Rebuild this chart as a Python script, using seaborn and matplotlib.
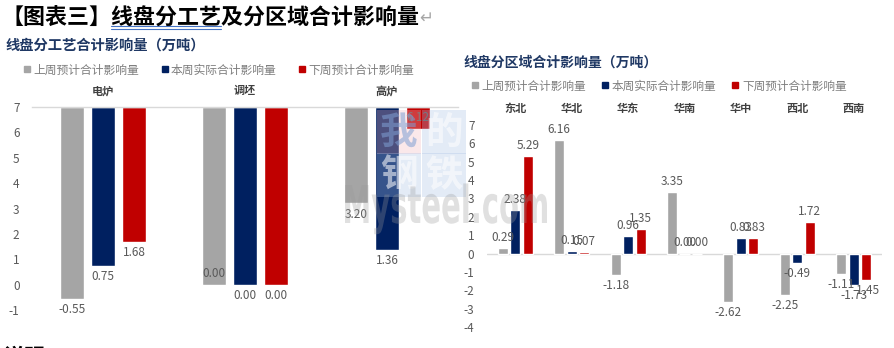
import matplotlib
matplotlib.use('Agg')
import matplotlib.pyplot as plt
import seaborn as sns
import pandas as pd
from matplotlib.lines import Line2D
from matplotlib.patches import PathPatch, Rectangle
from matplotlib.textpath import TextPath
from matplotlib.font_manager import FontProperties
from matplotlib.transforms import Affine2D

# ---------------- data ----------------
series = ['上周预计合计影响量', '本周实际合计影响量', '下周预计合计影响量']
colors = ['#A5A5A5', '#002060', '#C00000']

proc_cats = ['电炉', '调坯', '高炉']
proc_last = [-0.55, 0.00, 3.20]
proc_this = [0.75, 0.00, 1.36]
proc_next = [1.68, 0.00, 6.12]

reg_cats = ['东北', '华北', '华东', '华南', '华中', '西北', '西南']
reg_last = [0.29, 6.16, -1.18, 3.35, -2.62, -2.25, -1.11]
reg_this = [2.38, 0.15, 0.96, 0.00, 0.83, -0.49, -1.73]
reg_next = [5.29, 0.07, 1.35, 0.00, 0.83, 1.72, -1.45]

left_ticks = [-1, 0, 1, 2, 3, 4, 5, 6, 7]
right_ticks = [-4, -3, -2, -1, 0, 1, 2, 3, 4, 5, 6, 7]

main_title = '【图表三】线盘分工艺及分区域合计影响量'
left_title = '线盘分工艺合计影响量（万吨）'
right_title = '线盘分区域合计影响量（万吨）'


def long_df(cats, vals):
    rows = []
    for s, v in zip(series, vals):
        for c, x in zip(cats, v):
            rows.append({'cat': c, 'series': s, 'value': x})
    return pd.DataFrame(rows)


sns.set_style('white')
plt.rcParams['font.family'] = ['Noto Sans CJK SC', 'DejaVu Sans']

W, H = 894, 348
fig = plt.figure(figsize=(W / 100, H / 100), dpi=100)
fig.patch.set_facecolor('white')

TICK_C = '#595959'
LAB_C = '#595959'
CAT_C = '#404040'
LEG_C = '#7F7F7F'
TITLE_C = '#1F3864'

# ---------------- left: by process (axis crosses at top = 7) ----------------
ax1 = fig.add_axes([32 / W, 1 - 310 / H, 426 / W, 203 / H])
top = left_ticks[-1]
df1 = long_df(proc_cats, [proc_last, proc_this, proc_next])
df1['h'] = df1['value'] - top
sns.barplot(data=df1, x='cat', y='h', hue='series', order=proc_cats, hue_order=series,
            palette=colors, saturation=1, width=0.655, gap=0.23, bottom=top,
            errorbar=None, legend=False, ax=ax1)
ax1.set_ylim(left_ticks[0], top)
ax1.set_yticks(left_ticks)
ax1.set_yticklabels([str(t) for t in left_ticks])
ax1.set_xlabel('')
ax1.set_ylabel('')
ax1.xaxis.tick_top()
ax1.tick_params(axis='x', length=0, pad=7, labelsize=8, labelcolor=CAT_C)
for t in ax1.get_xticklabels():
    t.set_fontweight('bold')
ax1.tick_params(axis='y', length=0, pad=9, labelsize=8.5, labelcolor=TICK_C)
for s in ['left', 'right', 'bottom']:
    ax1.spines[s].set_visible(False)
ax1.spines['top'].set_color('#D9D9D9')
ax1.spines['top'].set_linewidth(1)

for ci, (cont, vals) in enumerate(zip(ax1.containers, [proc_last, proc_this, proc_next])):
    anns = ax1.bar_label(cont, labels=[f'{v:.2f}' for v in vals], padding=3,
                         fontsize=8.5, color=LAB_C)
    for bi, (ann, patch) in enumerate(zip(anns, cont.patches)):
        if ci == 0 and bi == 1:
            ann.xyann = (0, 3)
            ann.set_va('bottom')
        if ci == 2 and bi == 2:
            ann.xy = (ann.xy[0], patch.get_y())
            ann.xyann = (0, -3)
            ann.set_va('top')
            ann.set_zorder(20)

# ---------------- right: by region ----------------
ax2 = fig.add_axes([487 / W, 1 - 327 / H, 395 / W, 202 / H])
df2 = long_df(reg_cats, [reg_last, reg_this, reg_next])
sns.barplot(data=df2, x='cat', y='value', hue='series', order=reg_cats, hue_order=series,
            palette=colors, saturation=1, width=0.665, gap=0.2,
            errorbar=None, legend=False, ax=ax2)
ax2.set_ylim(right_ticks[0], right_ticks[-1])
ax2.set_yticks(right_ticks)
ax2.set_yticklabels([str(t) for t in right_ticks])
ax2.set_xlabel('')
ax2.set_ylabel('')
ax2.xaxis.tick_top()
ax2.tick_params(axis='x', length=0, pad=7, labelsize=8, labelcolor=CAT_C)
for t in ax2.get_xticklabels():
    t.set_fontweight('bold')
ax2.tick_params(axis='y', length=0, pad=9, labelsize=8.5, labelcolor=TICK_C)
for s in ax2.spines.values():
    s.set_visible(False)
ax2.axhline(0, color='#D9D9D9', lw=1, zorder=0.5)
for cont, vals in zip(ax2.containers, [reg_last, reg_this, reg_next]):
    ax2.bar_label(cont, labels=[f'{v:.2f}' for v in vals], padding=3,
                  fontsize=8.5, color=LAB_C)

# ---------------- legends ----------------
handles = [Line2D([], [], marker='s', linestyle='', color=c, markersize=4.5) for c in colors]
fig.legend(handles, series, loc='center left', bbox_to_anchor=(24 / W, 1 - 70 / H),
           ncol=3, frameon=False, fontsize=8.5, handlelength=0.5, handletextpad=0.3,
           columnspacing=1.9, labelcolor=LEG_C, borderaxespad=0, borderpad=0)
fig.legend(handles, series, loc='center left', bbox_to_anchor=(472 / W, 1 - 86 / H),
           ncol=3, frameon=False, fontsize=8.4, handlelength=0.5, handletextpad=0.3,
           columnspacing=1.4, labelcolor=LEG_C, borderaxespad=0, borderpad=0)

# ---------------- titles ----------------
fig.text(6 / W, 1 - 46 / H, left_title, color=TITLE_C, fontsize=10.3,
         fontweight='bold', va='center', ha='left')
fig.text(463 / W, 1 - 63 / H, right_title, color=TITLE_C, fontsize=10,
         fontweight='bold', va='center', ha='left')

t_main = fig.text(1 / W, 1 - 18 / H, main_title, color='black', fontsize=15.8,
                  fontweight='bold', va='center', ha='left')
fig.canvas.draw()
r = fig.canvas.get_renderer()
bb = t_main.get_window_extent(r)
fig.text(bb.x1 / W, 1 - 18 / H, '↵', color='#A6A6A6', fontsize=12,
         va='center', ha='left', family=['DejaVu Sans'])
# underline under "线盘分工艺"
tmp1 = fig.text(1 / W, 0.5, main_title[:5], fontsize=15.8, fontweight='bold')
tmp2 = fig.text(1 / W, 0.5, main_title[:10], fontsize=15.8, fontweight='bold')
x0 = tmp1.get_window_extent(r).x1 / W
x1 = tmp2.get_window_extent(r).x1 / W
tmp1.remove()
tmp2.remove()
for yy in (26, 29):
    fig.add_artist(Line2D([x0, x1], [1 - yy / H] * 2, color='#4472C4', lw=0.8))

# partially visible footer text
fig.text(3 / W, 1 - 356 / H, '说明：', fontsize=15, fontweight='bold', color='black',
         va='center', ha='left')

# ---------------- watermark ----------------
boxes = [(377, 110, '我', '#F2B8BF', '#7F9FD3'), (422, 110, '的', '#A9C2E6', 'white'),
         (377, 153, '钢', '#A9C2E6', 'white'), (422, 153, '铁', '#A9C2E6', 'white')]
for bx, by, ch, bg, fg in boxes:
    fig.add_artist(Rectangle((bx / W, 1 - (by + 44) / H), 44 / W, 44 / H,
                             transform=fig.transFigure, facecolor=bg, edgecolor='none',
                             alpha=0.32, zorder=10))
    fig.text((bx + 22) / W, 1 - (by + 22) / H, ch, fontsize=27, color=fg, alpha=0.55,
             ha='center', va='center', zorder=11, fontweight='bold')

tp = TextPath((0, 0), 'Mysteel.com', size=1, prop=FontProperties(family='DejaVu Sans', weight='bold'))
ext = tp.get_extents()
sx = 202 / ext.width
sy = 38 / 0.73
tr = Affine2D().translate(-ext.x0, 0).scale(sx / W, sy / H).translate(345 / W, 1 - 223 / H) + fig.transFigure
fig.add_artist(PathPatch(tp, transform=tr, facecolor='#9A9A9A', edgecolor='none',
                         alpha=0.3, zorder=12))

fig.savefig('out.png', dpi=100, facecolor='white')
